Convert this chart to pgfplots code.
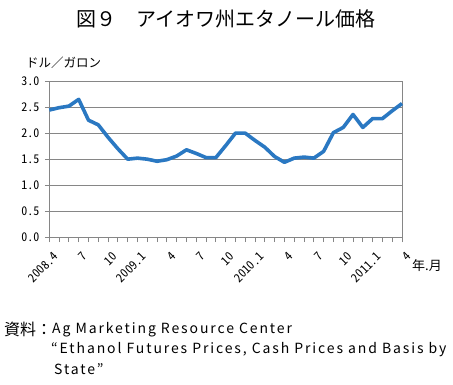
\documentclass[border=0pt]{standalone}
\usepackage{pgfplots}
\pgfplotsset{compat=1.18}
\usepackage{fontspec}
\setmainfont[RawFeature=+hwid]{Noto Sans CJK JP}
\newfontfamily\jp{Noto Sans CJK JP}
\newfontfamily\jpls[LetterSpace=13.5]{Noto Sans CJK JP}
\definecolor{linebl}{HTML}{2A78C2}
\definecolor{axgray}{HTML}{868686}
\begin{document}
\begin{tikzpicture}[x=1pt,y=1pt]
\path[use as bounding box] (0,0) rectangle (453,385);
\begin{axis}[
  at={(49.3pt,147.3pt)}, anchor=south west,
  scale only axis, width=352.7pt, height=156pt,
  xmin=0, xmax=36, ymin=0, ymax=3,
  enlargelimits=false,
  axis line style={axgray, line width=0.8pt},
  ymajorgrids, major grid style={axgray, line width=0.8pt},
  ytick={0,0.5,...,3},
  yticklabel style={/pgf/number format/.cd, fixed, fixed zerofill, precision=1, /tikz/.cd, font=\fontsize{12}{12}\selectfont, xshift=-2pt},
  ytick pos=left,
  xtick={0,3,...,36},
  xticklabels={2008.4,7,10,2009.1,4,7,10,2010.1,4,7,10,2011.1,4},
  minor xtick={0,...,36},
  xtick pos=bottom,
  tick align=outside,
  major tick length=4.5pt, minor tick length=4.5pt,
  tick style={axgray, line width=0.8pt},
  minor x tick style={axgray, line width=0.8pt},
  xticklabel style={font=\fontsize{12}{12}\selectfont, xshift=9pt, yshift=-10pt, rotate=45, anchor=east},
  /pgf/number format/assume math mode=true,
  clip=false,
]
\addplot[linebl, line width=3.6pt, line join=round] coordinates {
(0,2.455) (1,2.50) (2,2.53) (3,2.66) (4,2.26) (5,2.17) (6,1.93) (7,1.71)
(8,1.51) (9,1.53) (10,1.51) (11,1.47) (12,1.50) (13,1.57) (14,1.69) (15,1.62)
(16,1.54) (17,1.54) (18,1.77) (19,2.01) (20,2.01) (21,1.87) (22,1.74) (23,1.56)
(24,1.45) (25,1.53) (26,1.55) (27,1.53) (28,1.66) (29,2.02) (30,2.12) (31,2.37)
(32,2.12) (33,2.29) (34,2.29) (35,2.44) (36,2.58)
};
\end{axis}
\node[font=\jp\fontsize{20}{20}\selectfont] at (226,366.5) {図９　アイオワ州エタノール価格};
\node[anchor=west, inner sep=0, font=\jp\fontsize{12.5}{12.5}\selectfont] at (26,322.3) {ドル／ガロン};
\node[anchor=west, inner sep=0, font=\jp\fontsize{13}{13}\selectfont] at (412,119) {年.月};
\node[anchor=west, inner sep=0, font=\jp\fontsize{16}{16}\selectfont] at (4,55.3) {資料：};
\node[anchor=west, inner sep=0, font=\jpls\fontsize{14}{14}\selectfont] at (52,55.3) {Ag Marketing Resource Center};
\node[anchor=west, inner sep=0, font=\jpls\fontsize{14}{14}\selectfont] at (51,35) {“Ethanol Futures Prices, Cash Prices and Basis by};
\node[anchor=west, inner sep=0, font=\jpls\fontsize{14}{14}\selectfont] at (54,16) {State”};
\end{tikzpicture}
\end{document}
